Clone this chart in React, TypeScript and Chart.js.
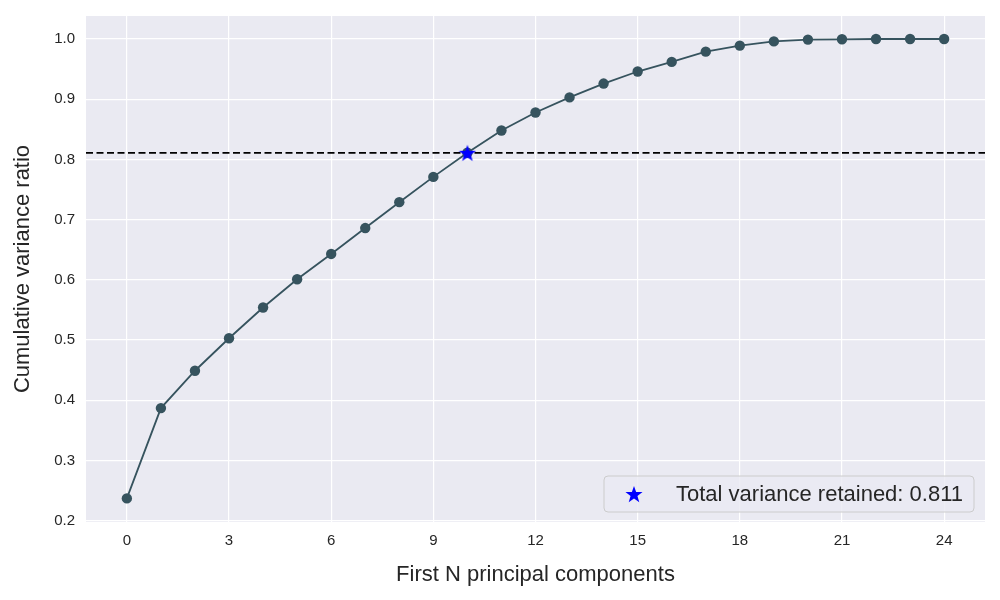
import React, { useEffect, useRef } from "react";
import { Chart, registerables } from "chart.js";

Chart.register(...registerables);

const components = [0, 1, 2, 3, 4, 5, 6, 7, 8, 9, 10, 11, 12, 13, 14, 15, 16, 17, 18, 19, 20, 21, 22, 23, 24];
const cumulativeVariance = [
  0.237, 0.387, 0.449, 0.503, 0.554, 0.601, 0.643, 0.686, 0.729, 0.771, 0.811, 0.848, 0.878,
  0.903, 0.926, 0.946, 0.962, 0.979, 0.989, 0.996, 0.999, 0.9995, 1.0, 1.0, 1.0,
];
const selectedComponent = 10;
const retainedVariance = 0.811;
const xTicks = [0, 3, 6, 9, 12, 15, 18, 21, 24];
const yTicks = [0.2, 0.3, 0.4, 0.5, 0.6, 0.7, 0.8, 0.9, 1.0];
const xRange = [-1.2, 25.2];
const yRange = [0.1978, 1.0382];
const legendLabel = "Total variance retained: " + retainedVariance.toFixed(3);

const FONT = "'Liberation Sans', Arial, sans-serif";
const LINE_COLOR = "#36535e";
const STAR_COLOR = "#0000ff";

function makeStar(size: number, color: string): HTMLCanvasElement {
  const c = document.createElement("canvas");
  c.width = size;
  c.height = size;
  const ctx = c.getContext("2d")!;
  const cx = size / 2;
  const cy = size / 2 + size * 0.05;
  const R = size / 2;
  const r = R * 0.4;
  ctx.beginPath();
  for (let i = 0; i < 10; i++) {
    const rad = i % 2 === 0 ? R : r;
    const a = -Math.PI / 2 + (i * Math.PI) / 5;
    const x = cx + rad * Math.cos(a);
    const y = cy + rad * Math.sin(a);
    if (i === 0) ctx.moveTo(x, y);
    else ctx.lineTo(x, y);
  }
  ctx.closePath();
  ctx.fillStyle = color;
  ctx.fill();
  return c;
}

export default function App() {
  const ref = useRef<HTMLCanvasElement>(null);

  useEffect(() => {
    const canvas = ref.current;
    if (!canvas) return;
    const star = makeStar(18, STAR_COLOR);

    const bgPlugin = {
      id: "bg",
      beforeDraw(chart: any) {
        const { ctx, chartArea } = chart;
        ctx.save();
        ctx.fillStyle = "#eaeaf2";
        ctx.fillRect(chartArea.left, chartArea.top, chartArea.right - chartArea.left, chartArea.bottom - chartArea.top);
        ctx.restore();
      },
    };

    const legendPlugin = {
      id: "innerLegend",
      afterDraw(chart: any) {
        const { ctx, chartArea } = chart;
        ctx.save();
        ctx.font = `22px ${FONT}`;
        const tw = ctx.measureText(legendLabel).width;
        const w = 72 + tw + 11;
        const h = 36;
        const right = chartArea.right - 11;
        const bottom = chartArea.bottom - 10;
        const x = right - w;
        const y = bottom - h;
        ctx.beginPath();
        ctx.roundRect(x, y, w, h, 4);
        ctx.fillStyle = "rgba(234,234,242,0.8)";
        ctx.fill();
        ctx.strokeStyle = "#cccccc";
        ctx.lineWidth = 1;
        ctx.stroke();
        ctx.drawImage(star, x + 30 - 9, y + h / 2 - 9);
        ctx.fillStyle = "#262626";
        ctx.textBaseline = "middle";
        ctx.fillText(legendLabel, x + 72, y + h / 2 + 1);
        ctx.restore();
      },
    };

    const chart = new Chart(canvas, {
      type: "line",
      data: {
        datasets: [
          {
            label: "threshold",
            data: [
              { x: xRange[0], y: retainedVariance },
              { x: xRange[1], y: retainedVariance },
            ],
            borderColor: "#000000",
            borderWidth: 1.8,
            borderDash: [7, 3.5],
            pointRadius: 0,
            order: 2,
          },
          {
            label: "cumulative",
            data: components.map((c, i) => ({ x: c, y: cumulativeVariance[i] })),
            borderColor: LINE_COLOR,
            backgroundColor: LINE_COLOR,
            borderWidth: 1.8,
            pointRadius: 5.2,
            pointBorderWidth: 0,
            pointBackgroundColor: LINE_COLOR,
            order: 1,
          },
          {
            label: legendLabel,
            data: [{ x: selectedComponent, y: retainedVariance }],
            showLine: false,
            pointStyle: star as any,
            pointRadius: 9,
            order: 0,
          },
        ],
      },
      options: {
        animation: false,
        responsive: true,
        maintainAspectRatio: false,
        layout: { padding: { top: 16, right: 15, left: 0, bottom: 0 } },
        plugins: { legend: { display: false }, tooltip: { enabled: false } },
        scales: {
          x: {
            type: "linear",
            min: xRange[0],
            max: xRange[1],
            afterBuildTicks(scale: any) {
              scale.ticks = xTicks.map((v) => ({ value: v }));
            },
            afterFit(scale: any) {
              scale.height = 78;
              scale.paddingLeft = 0;
              scale.paddingRight = 0;
            },
            border: { display: false },
            grid: { color: "#ffffff", lineWidth: 1.2, drawTicks: false },
            ticks: {
              padding: 10,
              color: "#262626",
              font: { family: FONT, size: 15 },
              maxRotation: 0,
              callback: (v: any) => String(v),
            },
            title: {
              display: true,
              text: "First N principal components",
              color: "#262626",
              font: { family: FONT, size: 22 },
              padding: { top: 8, bottom: 12 },
            },
          },
          y: {
            type: "linear",
            min: yRange[0],
            max: yRange[1],
            afterBuildTicks(scale: any) {
              scale.ticks = yTicks.map((v) => ({ value: v }));
            },
            afterFit(scale: any) {
              scale.width = 86;
              scale.paddingTop = 0;
              scale.paddingBottom = 0;
            },
            border: { display: false },
            grid: { color: "#ffffff", lineWidth: 1.2, drawTicks: false },
            ticks: {
              padding: 11,
              color: "#262626",
              font: { family: FONT, size: 15 },
              callback: (v: any) => Number(v).toFixed(1),
            },
            title: {
              display: true,
              text: "Cumulative variance ratio",
              color: "#262626",
              font: { family: FONT, size: 22 },
              padding: { top: 10, bottom: 0 },
            },
          },
        },
      },
      plugins: [bgPlugin, legendPlugin],
    });

    return () => chart.destroy();
  }, []);

  return (
    <div style={{ position: "fixed", left: 0, top: 0, width: 1000, height: 600, background: "#ffffff" }}>
      <canvas ref={ref} />
    </div>
  );
}
